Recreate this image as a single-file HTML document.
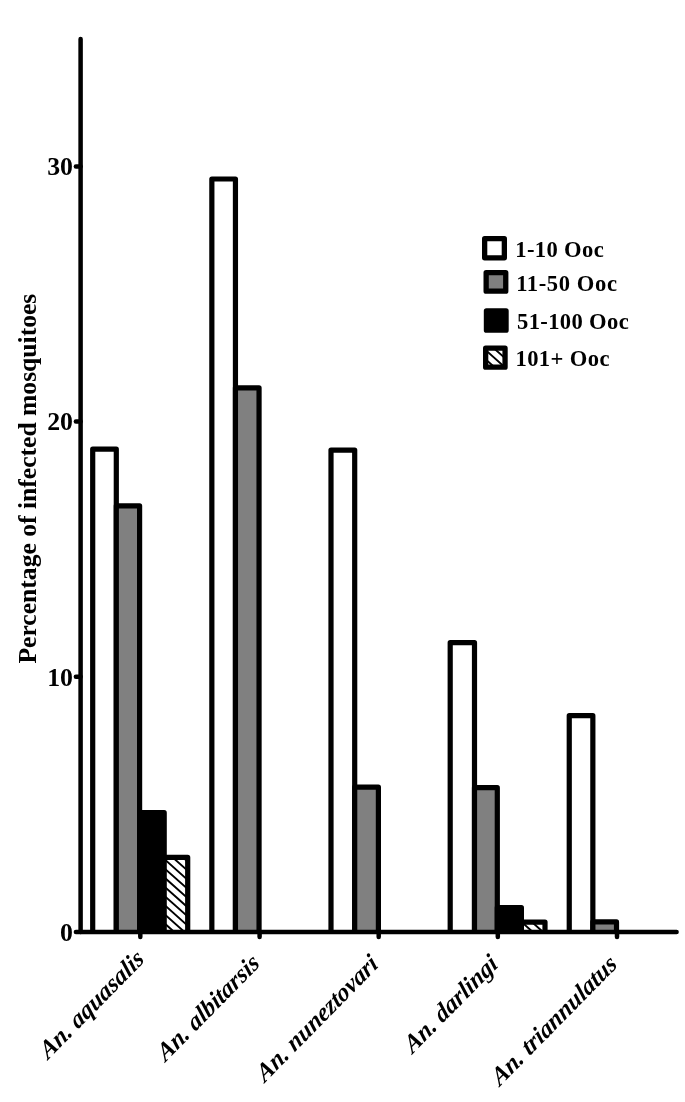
<!DOCTYPE html><html><head><meta charset="utf-8"><style>html,body{margin:0;padding:0;background:#fff;}svg{display:block;filter:grayscale(1);}</style></head><body>
<svg width="685" height="1102" viewBox="0 0 685 1102" font-family="'Liberation Serif', serif" font-weight="bold">
<rect width="685" height="1102" fill="#fff"/>
<defs>
<clipPath id="h0"><rect x="164.20" y="857.40" width="23.50" height="74.60"/></clipPath>
<clipPath id="h1"><rect x="521.40" y="922.10" width="23.60" height="9.90"/></clipPath>
<clipPath id="h2"><rect x="485.65" y="348.15" width="19.40" height="19.00"/></clipPath>
</defs>
<g stroke="#000" stroke-width="5.2" stroke-linejoin="round" stroke-linecap="butt">
<path d="M92.70 932.00 V449.20 H116.30 V932.00" fill="#ffffff"/>
<path d="M116.30 932.00 V505.80 H139.60 V932.00" fill="#808080"/>
<path d="M139.60 932.00 V812.70 H164.20 V932.00" fill="#000000"/>
<rect x="164.20" y="857.40" width="23.50" height="74.60" fill="#fff" stroke="none"/>
<path clip-path="url(#h0)" d="M163.20 821.52L188.70 844.21M163.20 830.67L188.70 853.36M163.20 839.82L188.70 862.51M163.20 848.97L188.70 871.66M163.20 858.12L188.70 880.81M163.20 867.27L188.70 889.96M163.20 876.42L188.70 899.11M163.20 885.57L188.70 908.26M163.20 894.72L188.70 917.41M163.20 903.87L188.70 926.56M163.20 913.02L188.70 935.71M163.20 922.17L188.70 944.86M163.20 931.32L188.70 954.01M163.20 940.47L188.70 963.16" stroke="#000" stroke-width="1.90" fill="none"/>
<path d="M164.20 932.00 V857.40 H187.70 V932.00" fill="none"/>
<path d="M211.85 932.00 V179.00 H235.45 V932.00" fill="#ffffff"/>
<path d="M235.45 932.00 V387.80 H259.05 V932.00" fill="#808080"/>
<path d="M331.00 932.00 V450.10 H354.70 V932.00" fill="#ffffff"/>
<path d="M354.70 932.00 V787.20 H378.40 V932.00" fill="#808080"/>
<path d="M450.20 932.00 V642.70 H474.50 V932.00" fill="#ffffff"/>
<path d="M474.50 932.00 V787.70 H497.30 V932.00" fill="#808080"/>
<path d="M497.30 932.00 V907.70 H521.40 V932.00" fill="#000000"/>
<rect x="521.40" y="922.10" width="23.60" height="9.90" fill="#fff" stroke="none"/>
<path clip-path="url(#h1)" d="M520.40 884.36L546.00 907.14M520.40 893.51L546.00 916.29M520.40 902.66L546.00 925.45M520.40 911.81L546.00 934.60M520.40 920.96L546.00 943.75M520.40 930.11L546.00 952.89M520.40 939.26L546.00 962.04M520.40 948.41L546.00 971.20" stroke="#000" stroke-width="1.90" fill="none"/>
<path d="M521.40 932.00 V922.10 H545.00 V932.00" fill="none"/>
<path d="M569.25 932.00 V715.70 H592.85 V932.00" fill="#ffffff"/>
<path d="M592.85 932.00 V921.90 H616.50 V932.00" fill="#808080"/>
</g>
<g stroke="#000" stroke-width="4.5" stroke-linejoin="round" stroke-linecap="round" fill="none">
<path d="M80.60 39.10 V932.00 H676.60"/>
<path d="M75.90 932.00 H80.60"/>
<path d="M75.90 676.80 H80.60"/>
<path d="M75.90 421.60 H80.60"/>
<path d="M75.90 166.40 H80.60"/>
<path d="M140.30 932.00 V937.00"/>
<path d="M259.60 932.00 V937.00"/>
<path d="M378.70 932.00 V937.00"/>
<path d="M497.80 932.00 V937.00"/>
<path d="M617.00 932.00 V937.00"/>
</g>
<text x="73.0" y="940.70" font-size="25.8" text-anchor="end">0</text>
<text x="73.0" y="685.50" font-size="25.8" text-anchor="end">10</text>
<text x="73.0" y="430.30" font-size="25.8" text-anchor="end">20</text>
<text x="73.0" y="175.10" font-size="25.8" text-anchor="end">30</text>
<text transform="translate(36.3 478.6) rotate(-90)" font-size="25.6" text-anchor="middle">Percentage of infected mosquitoes</text>
<g stroke="#000" stroke-width="5.3" stroke-linejoin="round">
<rect x="484.65" y="238.65" width="19.7" height="19.2" fill="#fff"/>
<rect x="486.15" y="272.55" width="19.6" height="18.6" fill="#808080"/>
<rect x="486.45" y="310.85" width="19.6" height="19.3" fill="#000"/>
<rect x="485.65" y="348.15" width="19.4" height="19" fill="#fff" stroke="none"/>
<path clip-path="url(#h2)" d="M484.65 312.46L506.05 331.51M484.65 321.66L506.05 340.71M484.65 330.86L506.05 349.91M484.65 340.06L506.05 359.11M484.65 349.26L506.05 368.31M484.65 358.46L506.05 377.51M484.65 367.66L506.05 386.71M484.65 376.86L506.05 395.91" stroke="#000" stroke-width="1.90" fill="none"/>
<rect x="485.65" y="348.15" width="19.4" height="19" fill="none"/>
</g>
<text x="515.30" y="256.90" font-size="22.6" letter-spacing="0.35">1-10 Ooc</text>
<text x="516.20" y="290.50" font-size="22.6" letter-spacing="0.59">11-50 Ooc</text>
<text x="517.00" y="329.40" font-size="22.6" letter-spacing="0.35">51-100 Ooc</text>
<text x="515.50" y="366.00" font-size="22.6" letter-spacing="0.38">101+ Ooc</text>
<text transform="translate(145.30 961.00) rotate(-45.5) skewX(-8)" font-size="24.75" font-style="italic" text-anchor="end">An. aquasalis</text>
<text transform="translate(260.80 965.20) rotate(-45.5) skewX(-8)" font-size="24.75" font-style="italic" text-anchor="end">An. albitarsis</text>
<text transform="translate(379.40 966.20) rotate(-45.5) skewX(-8)" font-size="24.75" font-style="italic" text-anchor="end">An. nuneztovari</text>
<text transform="translate(499.20 966.00) rotate(-45.5) skewX(-8)" font-size="24.75" font-style="italic" text-anchor="end">An. darlingi</text>
<text transform="translate(618.20 966.10) rotate(-45.5) skewX(-8)" font-size="24.75" font-style="italic" text-anchor="end">An. triannulatus</text>
</svg></body></html>
